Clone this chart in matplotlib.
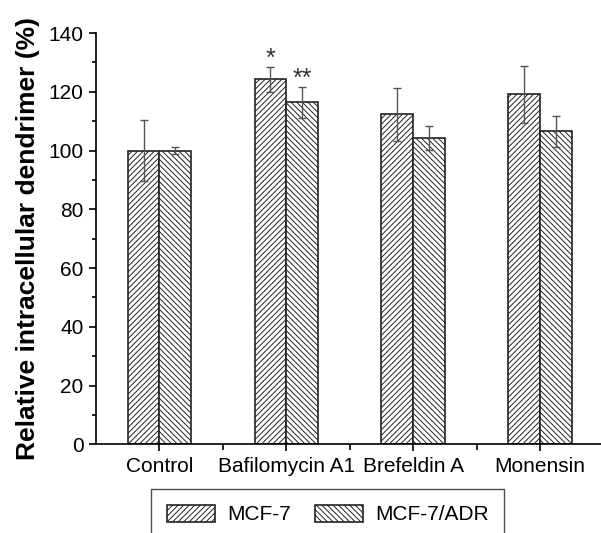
import matplotlib.pyplot as plt
import numpy as np
from matplotlib.ticker import MultipleLocator, FixedLocator

plt.rcParams["font.family"] = ["Liberation Sans", "DejaVu Sans"]
plt.rcParams["hatch.linewidth"] = 0.7
plt.rcParams["hatch.color"] = "#444444"

categories = ["Control", "Bafilomycin A1", "Brefeldin A", "Monensin"]
series_names = ["MCF-7", "MCF-7/ADR"]
mcf7_mean = [100.0, 124.2, 112.3, 119.1]
mcf7_err = [10.3, 4.3, 9.1, 9.8]
adr_mean = [100.0, 116.4, 104.3, 106.5]
adr_err = [1.2, 5.3, 4.2, 5.2]
# significance marks: (category index, series index, text)
marks = [(1, 0, "*"), (1, 1, "**")]

BAR_W = 0.25


def main():
    fig = plt.figure(figsize=(6.01, 5.33), dpi=100)
    ax = fig.add_axes([96 / 601, 1 - 444.3 / 533, 1 - 96 / 601, (444.3 - 33) / 533])

    x = np.arange(len(categories))
    err_kw = dict(ecolor="#555555", elinewidth=1.0, capsize=3, capthick=1.0)
    ax.bar(x - BAR_W / 2, mcf7_mean, BAR_W, yerr=mcf7_err, color="white",
           edgecolor="#222222", linewidth=1.2, hatch="//////",
           error_kw=err_kw, label=series_names[0])
    ax.bar(x + BAR_W / 2, adr_mean, BAR_W, yerr=adr_err, color="white",
           edgecolor="#222222", linewidth=1.2, hatch="\\\\\\\\\\\\",
           error_kw=err_kw, label=series_names[1])

    means = [mcf7_mean, adr_mean]
    errs = [mcf7_err, adr_err]
    for ci, si, txt in marks:
        xpos = ci + (si - 0.5) * BAR_W
        ax.text(xpos, means[si][ci] + errs[si][ci] - 1.5, txt, ha="center",
                va="bottom", fontsize=18, color="#333333")

    ax.set_xlim(-0.5, 3.48)
    ax.set_ylim(0, 140)
    ax.set_xticks(x)
    ax.set_xticklabels(categories)
    ax.xaxis.set_minor_locator(FixedLocator(x[:-1] + 0.5))
    ax.yaxis.set_major_locator(MultipleLocator(20))
    ax.yaxis.set_minor_locator(MultipleLocator(10))

    for side in ("top", "right"):
        ax.spines[side].set_visible(False)
    for side in ("left", "bottom"):
        ax.spines[side].set_linewidth(1.2)

    ax.tick_params(which="major", direction="out", length=5, width=1.2,
                   labelsize=15, pad=4)
    ax.tick_params(which="minor", direction="out", length=3, width=1.2)
    ax.tick_params(axis="x", which="minor", length=4)

    ax.set_ylabel("Relative intracellular dendrimer (%)", fontsize=19,
                  fontweight="bold", labelpad=6)

    leg = fig.legend(loc="upper left", bbox_to_anchor=(151 / 601, 1 - 489 / 533),
                     ncol=2, fontsize=15, frameon=True, fancybox=False,
                     edgecolor="#222222", handlelength=2.3, handleheight=0.9,
                     handletextpad=0.6, columnspacing=1.15, borderpad=0.75,
                     borderaxespad=0)
    leg.get_frame().set_linewidth(1.0)

    fig.savefig("out.png", dpi=100)


if __name__ == "__main__":
    main()
